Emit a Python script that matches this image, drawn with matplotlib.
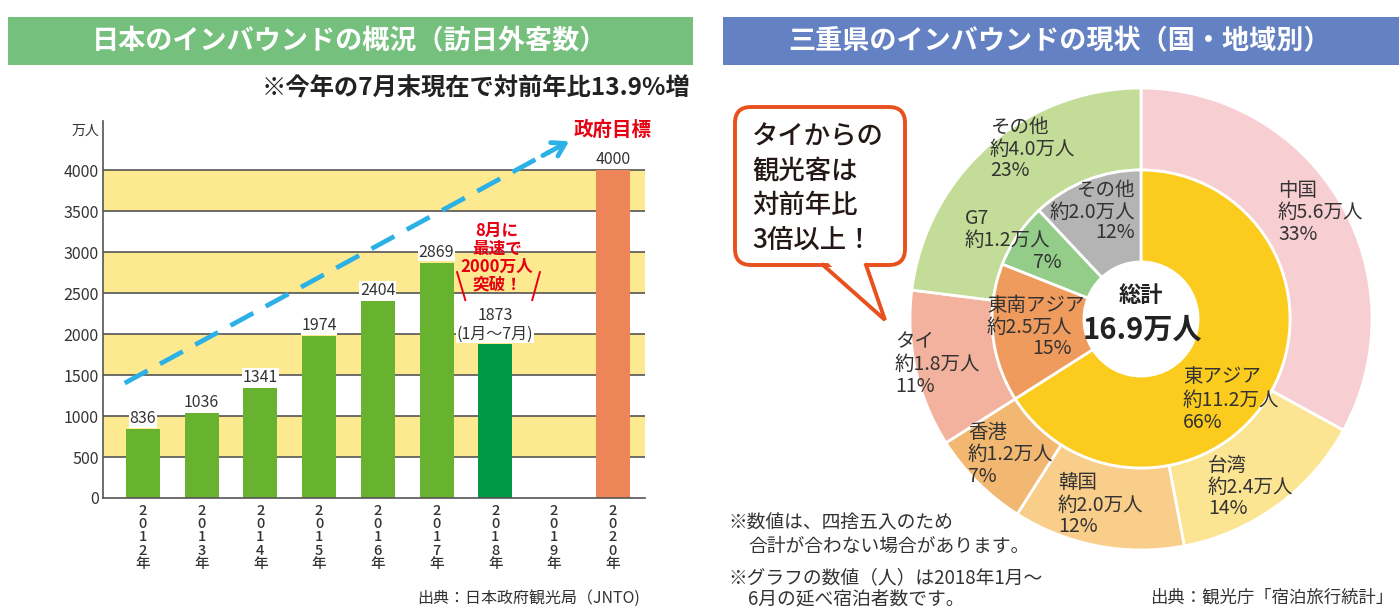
import matplotlib
matplotlib.use('Agg')
import matplotlib.pyplot as plt
from matplotlib.patches import Rectangle, FancyBboxPatch, Polygon
import numpy as np

plt.rcParams['font.family'] = ['Noto Sans CJK JP', 'DejaVu Sans']

# ---- data: left chart (訪日外客数, 万人)
years = ['2012', '2013', '2014', '2015', '2016', '2017', '2018', '2019', '2020']
visitors = [836, 1036, 1341, 1974, 2404, 2869, 1873, np.nan, 4000]
notes = ['', '', '', '', '', '', '(1月～7月)', '', '']
bar_colors = ['#67b32f'] * 6 + ['#009944', '#67b32f', '#ee8559']
yticks = [0, 500, 1000, 1500, 2000, 2500, 3000, 3500, 4000]

# ---- data: right chart (三重県, 2018年1-6月延べ宿泊者数)
outer_names = ['中国', '台湾', '韓国', '香港', 'タイ', 'その他']
outer_amount = [5.6, 2.4, 2.0, 1.2, 1.8, 4.0]
outer_pct = [33, 14, 12, 7, 11, 23]
inner_names = ['東アジア', '東南アジア', 'G7', 'その他']
inner_amount = [11.2, 2.5, 1.2, 2.0]
inner_pct = [66, 15, 7, 12]
total = 16.9

outer_colors = ['#f7cfd2', '#fce592', '#f9cd8a', '#f2b872', '#f3b29d', '#c3dd98']
inner_colors = ['#fbcb1e', '#f09b5e', '#93cd89', '#b4b4b4']

W, H = 1399, 615
fig = plt.figure(figsize=(W / 100, H / 100), dpi=100)
fig.patch.set_facecolor('white')
TXT = '#333333'

# ---------------- bar chart ----------------
ax = fig.add_axes([103 / W, (H - 498) / H, 542 / W, 377 / H])
ax.set_xlim(-0.68, 8.55)
ax.set_ylim(0, 4600)
for lo in [500, 1500, 2500, 3500]:
    ax.axhspan(lo, lo + 500, color='#fde98f', lw=0, zorder=0)
for t in yticks[1:]:
    ax.axhline(t, color='#555555', lw=1.2, zorder=1)

x = np.arange(len(years))
ax.bar(x, visitors, width=0.58, color=bar_colors, zorder=2)
for xi, v, n in zip(x, visitors, notes):
    if np.isnan(v):
        continue
    lab = f'{v}' + (f'\n{n}' if n else '')
    ax.annotate(lab, (xi, v), xytext=(0, 1.5), textcoords='offset points',
                ha='center', va='bottom', fontsize=11.5, color=TXT, zorder=4,
                linespacing=1.1,
                bbox=dict(fc='white', ec='none', pad=0.5))

ax.set_yticks(yticks)
ax.set_yticklabels([str(t) for t in yticks], fontsize=11.5, color=TXT)
ax.set_xticks(x)
ax.set_xticklabels(['\n'.join(list(y) + ['年']) for y in years],
                   fontsize=10.5, color=TXT, linespacing=0.95,
                   fontweight='medium')
ax.tick_params(length=0, pad=3)
ax.tick_params(axis='x', pad=4)
for s in ['top', 'right']:
    ax.spines[s].set_visible(False)
for s in ['left', 'bottom']:
    ax.spines[s].set_color('#555555')
    ax.spines[s].set_linewidth(1.2)

# dashed arrow toward the government target
p0 = np.array([-0.31, 1402.0])
p1 = np.array([7.3, 4370.0])
pm = p0 + (p1 - p0) * 0.95
ax.plot([p0[0], pm[0]], [p0[1], pm[1]], color='#2cb1e6', lw=3.4,
        linestyle=(0, (5.5, 3)), zorder=3, solid_capstyle='butt')
ax.annotate('', xy=p1, xytext=p0 + (p1 - p0) * 0.93,
            arrowprops=dict(arrowstyle='->,head_length=0.9,head_width=0.55',
                            color='#2cb1e6', lw=3.4), zorder=3)
ax.text(8, 4490, '政府目標', ha='center', va='center', fontsize=14,
        fontweight='bold', color='#e60012')
ax.text(6.03, 2930, '8月に\n最速で\n2000万人\n突破！', ha='center', va='center',
        fontsize=12, fontweight='bold', color='#e60012', linespacing=1.0,
        zorder=5)
ax.plot([5.35, 5.49], [2756, 2415], color='#e60012', lw=1.4, zorder=5)
ax.plot([6.76, 6.63], [2756, 2415], color='#e60012', lw=1.4, zorder=5)

# ---------------- donut chart ----------------
R = 231
cx, cy = 1141, 319
axp = fig.add_axes([(cx - R) / W, (H - cy - R) / H, 2 * R / W, 2 * R / H])
axp.pie(outer_pct, radius=1.0, startangle=90, counterclock=False,
        colors=outer_colors,
        wedgeprops=dict(width=1 - 0.645, edgecolor='white', linewidth=2))
axp.pie(inner_pct, radius=0.645, startangle=90, counterclock=False,
        colors=inner_colors,
        wedgeprops=dict(width=0.645 - 0.247, edgecolor='white', linewidth=2))
axp.set_xlim(-1, 1)
axp.set_ylim(-1, 1)
axp.set_aspect('equal')
axp.axis('off')

# ---------------- overlay (pixel coordinates) ----------------
ov = fig.add_axes([0, 0, 1, 1], zorder=5)
ov.set_xlim(0, W)
ov.set_ylim(H, 0)
ov.axis('off')

ov.add_patch(Rectangle((8, 17), 685, 48, color='#74c07c', lw=0))
ov.text(350, 41, '日本のインバウンドの概況（訪日外客数）', ha='center', va='center',
        fontsize=19.5, fontweight='bold', color='white')
ov.add_patch(Rectangle((723, 17), 680, 48, color='#6381c3', lw=0))
ov.text(1060, 41, '三重県のインバウンドの現状（国・地域別）', ha='center', va='center',
        fontsize=19.5, fontweight='bold', color='white')
ov.text(690, 88, '※今年の7月末現在で対前年比13.9%増', ha='right', va='center',
        fontsize=17.5, fontweight='bold', color='#222222')
ov.text(85, 131, '万人', ha='center', va='center', fontsize=10, color=TXT)
ov.text(640, 598, '出典：日本政府観光局（JNTO)', ha='right', va='center',
        fontsize=11.5, color=TXT)

# speech bubble
OR = '#e8501e'
ov.add_patch(FancyBboxPatch((735, 107), 170, 158,
                            boxstyle='round,pad=0,rounding_size=16',
                            fc='white', ec=OR, lw=2.8))
ov.add_patch(Polygon([(826, 261), (884, 317), (864, 261)], closed=True,
                     fc='white', ec='none', zorder=3))
ov.plot([823, 885, 866], [265, 320, 265], color=OR, lw=2.8, zorder=4,
        solid_joinstyle='miter')
for line, yy in zip(['タイからの', '観光客は', '対前年比', '3倍以上！'],
                    [137, 171, 205, 240]):
    ov.text(752, yy, line, ha='left', va='center', fontsize=19,
            fontweight='medium', color='#231815')

# donut labels
outer_pos = [(1278, 190), (1208, 465), (1058, 483), (968, 432), (895, 342),
             (990, 127)]
for name, amt, pct, (lx, ly) in zip(outer_names, outer_amount, outer_pct,
                                    outer_pos):
    for i, line in enumerate([name, f'約{amt:.1f}万人', f'{pct}%']):
        ov.text(lx, ly + 22 * i, line, ha='left', va='center', fontsize=14,
                color=TXT)

inner_pos = [
    [(1183, 377, 'left'), (1183, 400, 'left'), (1183, 422, 'left')],
    [(987, 305, 'left'), (987, 327, 'left'), (1072, 348, 'right')],
    [(965, 218, 'left'), (965, 240, 'left'), (1062, 262, 'right')],
    [(1135, 190, 'right'), (1135, 212, 'right'), (1135, 233, 'right')],
]
for name, amt, pct, pos in zip(inner_names, inner_amount, inner_pct,
                               inner_pos):
    for line, (lx, ly, ha) in zip([name, f'約{amt:.1f}万人', f'{pct}%'], pos):
        ov.text(lx, ly, line, ha=ha, va='center', fontsize=14, color=TXT)

ov.text(1141, 295, '総計', ha='center', va='center', fontsize=16,
        fontweight='bold', color='#222222')
ov.text(1142, 330, f'{total}万人', ha='center', va='center', fontsize=21,
        fontweight='bold', color='#222222')

# footnotes
ov.text(728, 523, '※数値は、四捨五入のため', ha='left', va='center',
        fontsize=13.5, color=TXT)
ov.text(748, 546, '合計が合わない場合があります。', ha='left', va='center',
        fontsize=13.5, color=TXT)
ov.text(728, 578, '※グラフの数値（人）は2018年1月～', ha='left', va='center',
        fontsize=13.5, color=TXT)
ov.text(748, 599, '6月の延べ宿泊者数です。', ha='left', va='center',
        fontsize=13.5, color=TXT)
ov.text(1393, 598, '出典：観光庁「宿泊旅行統計」', ha='right', va='center',
        fontsize=12.5, color=TXT)

fig.savefig('out.png', dpi=100)
